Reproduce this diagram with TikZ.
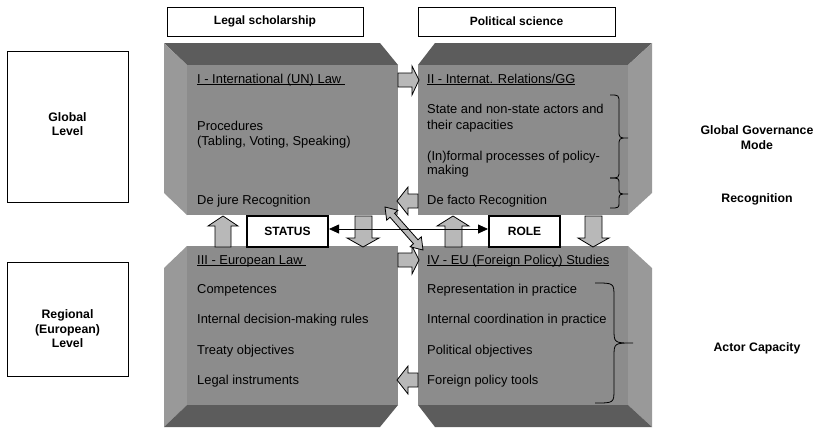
\documentclass[tikz,border=0pt]{standalone}
\usepackage{fontspec}
\setmainfont{Liberation Sans}
\usetikzlibrary{arrows.meta,calc}
\definecolor{facefront}{gray}{0.55}
\definecolor{faceside}{gray}{0.60}
\definecolor{facedark}{gray}{0.36}
\definecolor{arrowfill}{gray}{0.72}
% underlined heading with the rule a little below the baseline
\newcommand\ultitle[1]{\setbox0\hbox{#1}\rlap{\rule[-2.2bp]{\wd0}{0.8bp}}\box0}
\begin{document}
\begin{tikzpicture}[x=1bp,y=-1bp,
  body/.style={font=\fontsize{12.9bp}{15.5bp}\selectfont, inner sep=0, anchor=base west},
  boldlabel/.style={font=\bfseries\fontsize{12.3bp}{14.5bp}\selectfont, align=center, inner sep=0},
  headbox/.style={draw, line width=0.9bp, minimum height=29bp, inner sep=0,
                  font=\bfseries\fontsize{12bp}{14bp}\selectfont},
  levelbox/.style={draw, line width=0.9bp, minimum width=121bp, inner sep=0},
  keybox/.style={draw, fill=white, line width=2bp, minimum height=31bp, inner sep=0,
                 font=\bfseries\fontsize{12bp}{14bp}\selectfont},
  blockarrow/.style={draw=black, line width=0.8bp, fill=arrowfill, line join=miter},
  bracepath/.style={draw=black, line width=0.8bp},
  front/.style={fill=facefront},
  side/.style={fill=faceside},
  dark/.style={fill=facedark}]
\useasboundingbox (0,0) rectangle (820,427);

% column headers
\node[headbox, minimum width=196bp] (legal) at (265,21.5) {Legal scholarship};
\node[headbox, minimum width=197bp] (polsci) at (516.5,21.5) {Political science};

% level boxes
\node[levelbox, minimum height=151bp] (globalbox) at (67.5,126.5) {};
\node[boldlabel] (globaltxt) at (67.5,124) {Global\\Level};
\node[levelbox, minimum height=114bp] (regionalbox) at (67.5,319) {};
\node[boldlabel] (regionaltxt) at (67.5,329) {Regional\\(European)\\Level};

% block I
\path[dark] (164,43) -- (380,43) -- (398,65) -- (187,65) -- cycle;
\path[side] (164,43) -- (187,65) -- (187,215) -- (164,193) -- cycle;
\path[front] (187,65) rectangle (398,215);
% block II
\path[dark] (435,43) -- (652,43) -- (628,65) -- (418,65) -- cycle;
\path[side] (652,43) -- (652,193) -- (628,215) -- (628,65) -- cycle;
\path[front] (418,65) rectangle (628,215);
% block III
\path[side] (164,268) -- (187,246) -- (187,405) -- (164,427) -- cycle;
\path[dark] (187,405) -- (398,405) -- (380,427) -- (164,427) -- cycle;
\path[front] (187,246) rectangle (398,405);
% block IV
\path[side] (628,246) -- (652,268) -- (652,427) -- (628,405) -- cycle;
\path[dark] (418,405) -- (628,405) -- (652,427) -- (435,427) -- cycle;
\path[front] (418,246) rectangle (628,405);

% block I text
\node[body] (t1) at (197,83) {\ultitle{I - International (UN) Law\ }};
\node[body] (t1a) at (197,130) {Procedures};
\node[body] (t1b) at (197,145) {(Tabling, Voting, Speaking)};
\node[body] (t1c) at (197,204) {De jure Recognition};
% block II text
\node[body] (t2) at (427,83) {\ultitle{II - Internat. Relations/GG}};
\node[body] (t2a) at (427,113) {State and non-state actors and};
\node[body] (t2b) at (427,129) {their capacities};
\node[body] (t2c) at (427,160) {(In)formal processes of policy-};
\node[body] (t2d) at (427,174) {making};
\node[body] (t2e) at (427,204) {De facto Recognition};
% block III text
\node[body] (t3) at (197,264) {\ultitle{III - European Law\ }};
\node[body] (t3a) at (197,293) {Competences};
\node[body] (t3b) at (197,323) {Internal decision-making rules};
\node[body] (t3c) at (197,354) {Treaty objectives};
\node[body] (t3d) at (197,384) {Legal instruments};
% block IV text
\node[body] (t4) at (427,264) {\ultitle{IV - EU (Foreign Policy) Studies}};
\node[body] (t4a) at (427,293) {Representation in practice};
\node[body] (t4b) at (427,323) {Internal coordination in practice};
\node[body] (t4c) at (427,354) {Political objectives};
\node[body] (t4d) at (427,384) {Foreign policy tools};

% braces
\path[bracepath] (610,95) .. controls (619,95) .. (619,103) -- (619,130)
  .. controls (619,138) .. (628,138) .. controls (619,138) .. (619,146)
  -- (619,170) .. controls (619,178) .. (610,178);
\path[bracepath] (610,178) .. controls (619,178) .. (619,184) -- (619,188)
  .. controls (619,194) .. (628,194) .. controls (619,194) .. (619,200)
  -- (619,202) .. controls (619,208) .. (610,208);
\path[bracepath] (595,283) .. controls (614,283) .. (614,297) -- (614,329)
  .. controls (614,343) .. (633,343) .. controls (614,343) .. (614,357)
  -- (614,389) .. controls (614,403) .. (595,403);

% side labels
\node[boldlabel] (ggm) at (757,137.5) {Global Governance\\Mode};
\node[boldlabel] (recog) at (757,199) {Recognition};
\node[boldlabel] (actcap) at (757,348) {Actor Capacity};

% horizontal block arrows between the columns
\path[blockarrow] (398,73) -- (412,73) -- (412,66) -- (419,80) -- (412,95) -- (412,87) -- (398,87) -- cycle;
\path[blockarrow] (418,194) -- (408,194) -- (408,187) -- (397,201) -- (408,215) -- (408,208) -- (418,208) -- cycle;
\path[blockarrow] (398,253) -- (412,253) -- (412,246) -- (419,260) -- (412,274) -- (412,267) -- (398,267) -- cycle;
\path[blockarrow] (418,373) -- (408,373) -- (408,366) -- (397,380) -- (408,394) -- (408,387) -- (418,387) -- cycle;

% vertical block arrows between the levels
\path[blockarrow] (215,247) -- (215,226) -- (208,226) -- (223,216) -- (238,226) -- (231,226) -- (231,247) -- cycle;
\path[blockarrow] (355,216) -- (355,238) -- (347,238) -- (363,247) -- (379,238) -- (372,238) -- (372,216) -- cycle;
\path[blockarrow] (445,247) -- (445,226) -- (437,226) -- (453,216) -- (469,226) -- (462,226) -- (462,247) -- cycle;
\path[blockarrow] (585,216) -- (585,238) -- (578,238) -- (593,247) -- (609,238) -- (602,238) -- (602,216) -- cycle;

% diagonal double arrow
\path[blockarrow] (385,207) -- (397.90,210.27) -- (394.53,213.25) -- (417.97,239.77)
  -- (421.34,236.79) -- (423,250) -- (410.10,246.73) -- (413.47,243.75)
  -- (390.03,217.23) -- (386.66,220.21) -- cycle;

% status and role
\node[keybox, minimum width=81bp] (status) at (287.5,231.5) {STATUS};
\node[keybox, minimum width=71bp] (role) at (524.5,231.5) {ROLE};
\draw[line width=0.8bp, {Triangle[length=10bp,width=9bp]}-{Triangle[length=10bp,width=9bp]}]
  ($(status.east)+(0,-2.5)$) -- ($(role.west)+(0,-2.5)$);
\end{tikzpicture}
\end{document}
